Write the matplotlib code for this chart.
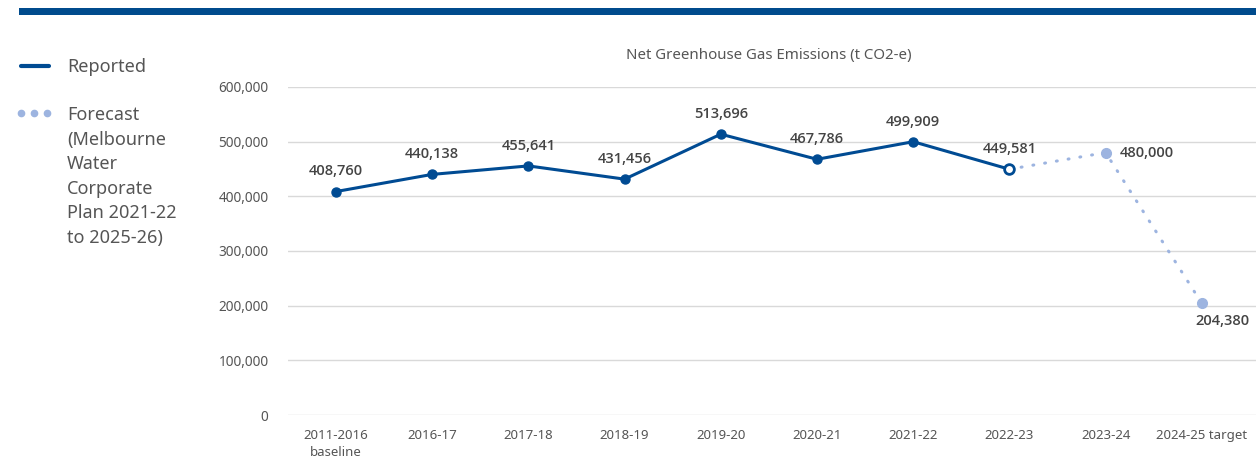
import matplotlib
matplotlib.use("Agg")
import matplotlib.pyplot as plt
from matplotlib.lines import Line2D
from matplotlib.patches import Rectangle
from matplotlib.ticker import FuncFormatter, MultipleLocator

plt.rcParams['font.family'] = ['Noto Sans', 'DejaVu Sans']

categories = ["2011-2016\nbaseline", "2016-17", "2017-18", "2018-19", "2019-20",
              "2020-21", "2021-22", "2022-23", "2023-24", "2024-25 target"]
reported = [408760, 440138, 455641, 431456, 513696, 467786, 499909, 449581]
forecast_idx = [7, 8, 9]
forecast = [449581, 480000, 204380]
title = "Net Greenhouse Gas Emissions (t CO2-e)"

BLUE = "#004B93"
LIGHT = "#9DB4E0"
TXT = "#555555"
LBL = "#444444"
BOLDFAM = ['Open Sans', 'Noto Sans', 'DejaVu Sans']

W, H = 1256, 461
fig = plt.figure(figsize=(W / 100, H / 100), dpi=100)
ax = fig.add_axes([288 / W, (H - 415) / H, (W - 288) / W, (415 - 87) / H])

step = 96.2
x0 = (288 - 336) / step
x1 = (W - 336) / step
ax.set_xlim(x0, x1)
ax.set_ylim(0, 600000)

ax.yaxis.set_major_locator(MultipleLocator(100000))
ax.yaxis.set_major_formatter(FuncFormatter(lambda v, p: f"{int(v):,}"))
ax.grid(axis='y', color='#d9d9d9', lw=1)
ax.set_axisbelow(True)
for s in ax.spines.values():
    s.set_visible(False)
ax.tick_params(length=0, labelcolor=TXT)
ax.tick_params(axis='y', pad=14, labelsize=9.8)
ax.tick_params(axis='x', pad=10, labelsize=9.5)
xs = list(range(len(categories)))
ax.set_xticks(xs)
ax.set_xticklabels(categories)
for t in ax.get_xticklabels():
    t.set_linespacing(1.45)

# forecast line
ax.plot(forecast_idx, forecast, color=LIGHT, lw=2.2, ls=(0, (0.3, 3.6)),
        dash_capstyle='round', zorder=2)
ax.plot(forecast_idx[1:], forecast[1:], 'o', color=LIGHT, ms=7, zorder=3)
# reported line
ax.plot(xs[:len(reported)], reported, color=BLUE, lw=2.2, zorder=4)
ax.plot(xs[:len(reported) - 1], reported[:-1], 'o', color=BLUE, ms=6.5, zorder=5)
ax.plot([xs[len(reported) - 1]], [reported[-1]], 'o', mfc='white', mec=BLUE,
        mew=2, ms=7, zorder=5)

lab_kw = dict(textcoords='offset points', va='center', fontsize=10.5,
              fontweight='semibold', family=BOLDFAM, color=LBL)
for i, v in enumerate(reported):
    ax.annotate(f"{v:,}", (i, v), xytext=(0, 14.5), ha='center', **lab_kw)
ax.annotate(f"{forecast[1]:,}", (forecast_idx[1], forecast[1]), xytext=(10, 0),
            ha='left', **lab_kw)
ax.annotate(f"{forecast[2]:,}", (forecast_idx[2], forecast[2]), xytext=(15, -13),
            ha='center', **lab_kw)

fig.text(769 / W, 1 - 56 / H, title, ha='center', va='center', fontsize=10.8, color=TXT)

# top bar
fig.add_artist(Rectangle((19 / W, 1 - 15 / H), (W - 19) / W, 7 / H,
                         transform=fig.transFigure, color="#004B8D", lw=0))

# legend
fig.add_artist(Line2D([21 / W, 49 / W], [1 - 66 / H] * 2, transform=fig.transFigure,
                      color=BLUE, lw=3, solid_capstyle='round'))
fig.add_artist(Line2D([21 / W, 34 / W, 47 / W], [1 - 113 / H] * 3,
                      transform=fig.transFigure, ls='none', marker='o',
                      ms=4.5, color=LIGHT))
fig.text(67 / W, 1 - 67 / H, "Reported", ha='left', va='center', fontsize=13, color=TXT)
fig.text(67 / W, 1 - 106 / H,
         "Forecast\n(Melbourne\nWater\nCorporate\nPlan 2021-22\nto 2025-26)",
         ha='left', va='top', fontsize=13, color=TXT, linespacing=1.47)

fig.savefig("out.png", dpi=100)
